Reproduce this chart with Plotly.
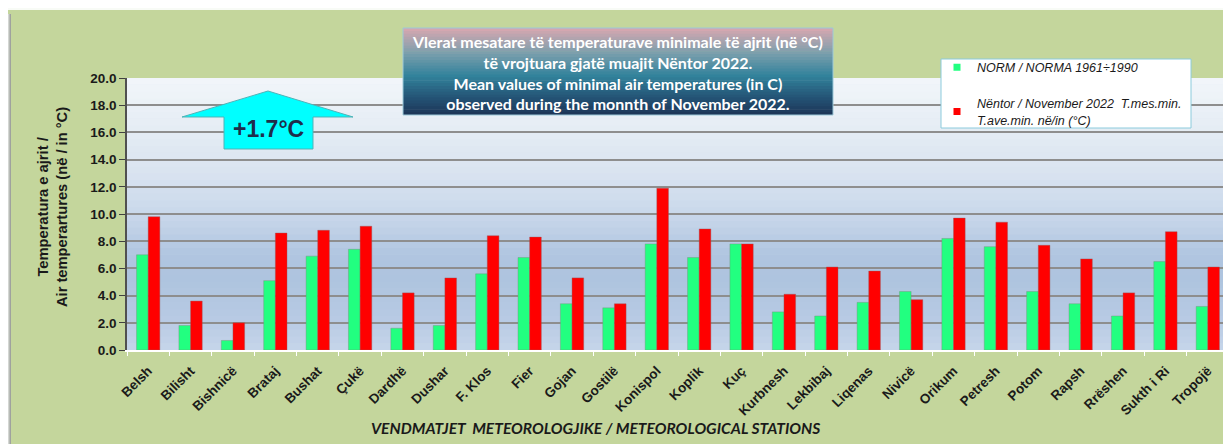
import plotly.graph_objects as go

stations = ["Belsh", "Bilisht", "Bishnicë", "Brataj", "Bushat", "Çukë", "Dardhë", "Dushar",
            "F. Klos", "Fier", "Gojan", "Gostilë", "Konispol", "Koplik", "Kuç", "Kurbnesh",
            "Lekbibaj", "Liqenas", "Nivicë", "Orikum", "Petresh", "Potom", "Rapsh", "Rrëshen",
            "Sukth i Ri", "Tropojë"]
norm_1961_1990 = [7.0, 1.8, 0.7, 5.1, 6.9, 7.4, 1.6, 1.8, 5.6, 6.8, 3.4, 3.1, 7.8, 6.8, 7.8, 2.8,
                  2.5, 3.5, 4.3, 8.2, 7.6, 4.3, 3.4, 2.5, 6.5, 3.2]
nov_2022 = [9.8, 3.6, 2.0, 8.6, 8.8, 9.1, 4.2, 5.3, 8.4, 8.3, 5.3, 3.4, 11.9, 8.9, 7.8, 4.1,
            6.1, 5.8, 3.7, 9.7, 9.4, 7.7, 6.7, 4.2, 8.7, 6.1]
y_ticks = [0, 2, 4, 6, 8, 10, 12, 14, 16, 18, 20]

# page has an 8px body margin; figure is offset by it
OFF = 8
W, H = 1231 - OFF, 444 - OFF
ML, MT = 127 - OFF, 78 - OFF
MR = W - (1229 - OFF)
MB = H - (350 - OFF)
PW, PH = W - ML - MR, H - MT - MB


def px(x):  # window x -> paper
    return (x - OFF - ML) / PW


def py(y):  # window y -> paper
    return (H - MB - (y - OFF)) / PH


def lerp_color(stops, t):
    for i in range(len(stops) - 1):
        t0, c0 = stops[i]
        t1, c1 = stops[i + 1]
        if t0 <= t <= t1:
            f = (t - t0) / (t1 - t0) if t1 > t0 else 0
            c = [round(c0[k] + (c1[k] - c0[k]) * f) for k in range(3)]
            return "rgb(%d,%d,%d)" % tuple(c)
    return "rgb(%d,%d,%d)" % tuple(stops[-1][1])


fig = go.Figure()
fig.add_trace(go.Bar(x=stations, y=norm_1961_1990, name="NORM / NORMA 1961÷1990",
                     marker=dict(color="#22ff80", line=dict(color="rgba(120,140,120,0.5)", width=0.8)),
                     showlegend=False))
fig.add_trace(go.Bar(x=stations, y=nov_2022, name="Nëntor / November 2022",
                     marker=dict(color="#ff0000", line=dict(color="rgba(150,90,90,0.5)", width=0.8)),
                     showlegend=False))
# legend entries
fig.add_trace(go.Scatter(x=[None], y=[None], mode="markers", legendgroup="a",
                         name="NORM / NORMA 1961÷1990",
                         marker=dict(symbol="square", size=7, color="#22ff80")))
fig.add_trace(go.Scatter(x=[None], y=[None], mode="markers", legendgroup="b",
                         name="Nëntor / November 2022  T.mes.min.<br>T.ave.min. në/in (°C)",
                         marker=dict(symbol="square", size=7, color="#ff0000")))

shapes = []
# page whitespace + shadow around green panel
shapes.append(dict(type="rect", xref="paper", yref="paper", x0=px(0), x1=px(1240), y0=py(10), y1=py(0),
                   fillcolor="#f8fbf6", line=dict(width=0), layer="below"))
for i, col in enumerate(["#d4d7d3", "#b8bbb7", "#9fa29e"]):
    shapes.append(dict(type="rect", xref="paper", yref="paper", x0=px(8 + i), x1=px(9 + i),
                       y0=py(450), y1=py(14), fillcolor=col, line=dict(width=0), layer="below"))

# plot area vertical gradient
bg_stops = [(0.0, (198, 213, 234)), (0.1, (185, 203, 228)), (0.25, (174, 196, 223)),
            (0.35, (176, 197, 224)), (0.5, (201, 216, 235)), (0.65, (217, 227, 240)),
            (0.8, (228, 236, 244)), (1.0, (242, 246, 250))]
n = 40
for i in range(n):
    t = (i + 0.5) / n
    shapes.append(dict(type="rect", xref="x domain", yref="y domain", x0=0, x1=1,
                       y0=i / n, y1=min(1, (i + 1) / n + 0.002), fillcolor=lerp_color(bg_stops, t),
                       line=dict(width=0), layer="below"))

# title box gradient
tb_x0, tb_x1, tb_y0, tb_y1 = 403, 833, 28, 115
tb_stops = [(0.0, (217, 168, 176)), (0.3, (120, 158, 172)), (0.55, (50, 130, 155)),
            (0.8, (36, 84, 118)), (1.0, (28, 52, 86))]
m = 30
for i in range(m):
    t = (i + 0.5) / m
    ya = tb_y0 + (tb_y1 - tb_y0) * i / m
    yb = min(tb_y1, tb_y0 + (tb_y1 - tb_y0) * (i + 1) / m + 0.6)
    shapes.append(dict(type="rect", xref="paper", yref="paper", x0=px(tb_x0), x1=px(tb_x1),
                       y0=py(yb), y1=py(ya), fillcolor=lerp_color(tb_stops, t),
                       line=dict(width=0), layer="above"))
shapes.append(dict(type="rect", xref="paper", yref="paper", x0=px(tb_x0), x1=px(tb_x1),
                   y0=py(tb_y1), y1=py(tb_y0), fillcolor="rgba(0,0,0,0)",
                   line=dict(color="#9cc9d9", width=1), layer="above"))

# legend box
shapes.append(dict(type="rect", xref="paper", yref="paper", x0=px(941), x1=px(1191),
                   y0=py(128), y1=py(59), fillcolor="white",
                   line=dict(color="#8ccbdc", width=1), layer="above"))

# arrow
pts = [(268, 91), (353, 117), (313, 117), (313, 149), (224, 149), (224, 117), (182, 117)]
path = "M " + " L ".join("%f,%f" % (px(a), py(b)) for a, b in pts) + " Z"
shapes.append(dict(type="path", xref="paper", yref="paper", path=path, fillcolor="#00ffff",
                   line=dict(color="#4fb3b8", width=1), layer="above"))

annotations = []
annotations.append(dict(xref="paper", yref="paper", x=px(268), y=py(129), showarrow=False,
                        text="<b>+1.7°C</b>",
                        font=dict(family="Liberation Sans, Arial", size=23, color="#1f2d4a", weight="bold"),
                        xanchor="center", yanchor="middle"))
annotations.append(dict(xref="paper", yref="paper", x=px(617), y=py(72), showarrow=False,
                        text="<b>Vlerat mesatare të temperaturave minimale të ajrit (në °C)<br>"
                             "të vrojtuara gjatë muajit Nëntor 2022.<br>"
                             "Mean values of minimal air temperatures (in C)<br>"
                             "observed during the monnth of November 2022.</b>",
                        font=dict(family="Lato, Open Sans", size=16, color="white"),
                        xanchor="center", yanchor="middle", align="center"))
annotations.append(dict(xref="paper", yref="paper", x=px(52), y=py(207), showarrow=False,
                        text="<b>Temperatura e ajrit /<br>Air temperartures (në / in °C)</b>",
                        textangle=-90, font=dict(family="Liberation Sans, Arial", size=14.7, color="#1a1a1a"),
                        xanchor="center", yanchor="middle", align="center"))
annotations.append(dict(xref="paper", yref="paper", x=px(595), y=py(428), showarrow=False,
                        text="<b><i>VENDMATJET  METEOROLOGJIKE / METEOROLOGICAL STATIONS</i></b>",
                        font=dict(family="Lato, Open Sans", size=15.6, color="#1a1a1a"),
                        xanchor="center", yanchor="middle"))

fig.update_layout(
    width=W, height=H,
    margin=dict(l=ML, r=MR, t=MT, b=MB),
    paper_bgcolor="#c4d69c",
    plot_bgcolor="#c9d8eb",
    barmode="group", bargap=0.45, bargroupgap=0,
    shapes=shapes, annotations=annotations,
    showlegend=True,
    legend=dict(x=px(937), y=py(52.5), xanchor="left", yanchor="top",
                bgcolor="rgba(0,0,0,0)", borderwidth=0,
                traceorder="grouped", tracegroupgap=17,
                font=dict(family="Liberation Sans, Arial", size=12.5, color="#1a1a1a", style="italic"),
                itemwidth=30),
    xaxis=dict(type="category", showgrid=False, showline=True, linecolor="white", linewidth=1.5,
               ticks="outside", tickson="boundaries", tickcolor="white", ticklen=4,
               tickangle=-45, ticklabelstandoff=6,
               tickfont=dict(family="Liberation Sans, Arial", size=13.5, color="#1a1a1a", weight="bold"),
               range=[-0.5, len(stations) - 0.5]),
    yaxis=dict(range=[0, 20], tickvals=y_ticks, ticktext=["%.1f" % v for v in y_ticks],
               showgrid=True, gridcolor="#8e8e8e", gridwidth=1.5,
               showline=True, linecolor="#505050", linewidth=1.5,
               ticks="outside", tickcolor="#404040", ticklen=6,
               tickfont=dict(family="Liberation Sans, Arial", size=13.5,
                             color="#1a1a1a", weight="bold"),
               zeroline=False),
)

fig.write_html("out.html")
